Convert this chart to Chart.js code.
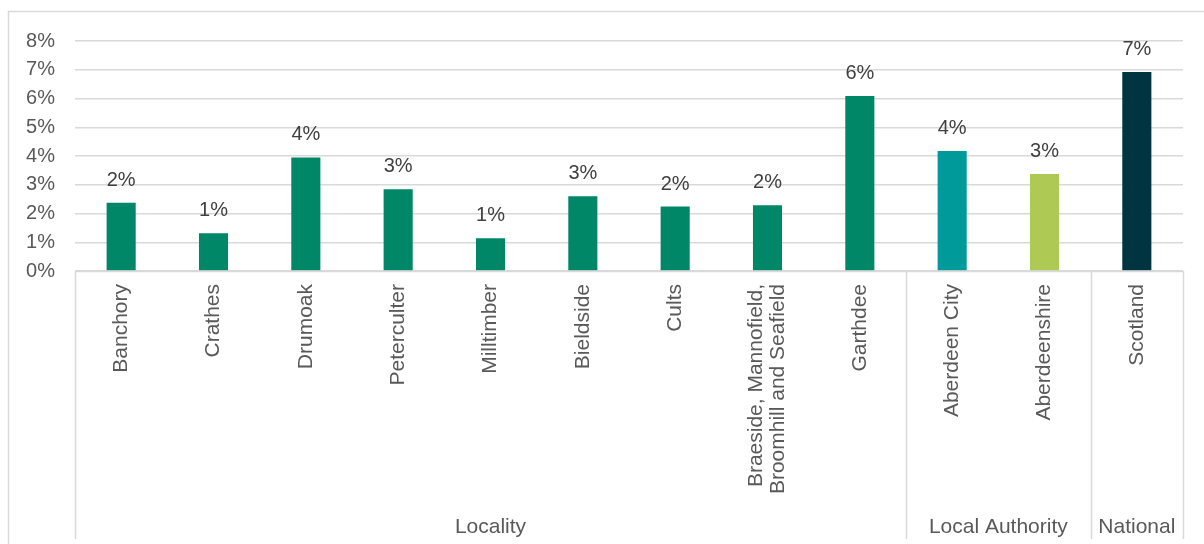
<!DOCTYPE html>
<html>
<head>
<meta charset="utf-8">
<script src="https://cdn.jsdelivr.net/npm/chart.js@4"></script>
<style>
  html, body { margin: 0; padding: 0; background: #ffffff; }
  #wrap { width: 1204px; height: 544px; position: relative; }
</style>
</head>
<body>
<div id="wrap"><canvas id="chart"></canvas></div>
<script>
// Categories (multi-line labels as arrays)
const categories = [
  'Banchory', 'Crathes', 'Drumoak', 'Peterculter', 'Milltimber', 'Bieldside',
  'Cults', ['Braeside, Mannofield,', 'Broomhill and Seafield'], 'Garthdee',
  'Aberdeen City', 'Aberdeenshire', 'Scotland'
];

// Share of population (%)
const values = [2.37, 1.31, 3.95, 2.84, 1.14, 2.6, 2.24, 2.29, 6.09, 4.17, 3.37, 6.92];

// Group spans over the category axis: [label, first index, last index]
const groupLabels = ['Locality', 'Local Authority', 'National'];
const groupStart = [0, 9, 11];
const groupEnd = [8, 10, 11];

// Bar colours per category
const barColors = [
  '#008767', '#008767', '#008767', '#008767', '#008767', '#008767',
  '#008767', '#008767', '#008767', '#009A9A', '#AFCA54', '#003440'
];

const yTicks = [0, 1, 2, 3, 4, 5, 6, 7, 8];

const FONT = 'Arial, "Liberation Sans", sans-serif';
const AXIS_TEXT = '#595959';
const LABEL_TEXT = '#404040';
const LINE = '#D9D9D9';

// Draws the frame, category labels, group labels and dividers, and value labels
const decorations = {
  id: 'decorations',
  afterDatasetsDraw(chart) {
    const ctx = chart.ctx;
    const x = chart.scales.x;
    const area = chart.chartArea;
    const half = (x.getPixelForValue(1) - x.getPixelForValue(0)) / 2;
    ctx.save();

    // outer frame
    ctx.strokeStyle = LINE;
    ctx.lineWidth = 1.5;
    ctx.beginPath();
    ctx.moveTo(8.5, 544);
    ctx.lineTo(8.5, 11.5);
    ctx.lineTo(1204, 11.5);
    ctx.stroke();

    // group dividers
    const bottom = 539;
    const edges = [x.getPixelForValue(groupStart[0]) - half];
    groupEnd.forEach(e => edges.push(x.getPixelForValue(e) + half));
    edges.forEach(px => {
      ctx.beginPath();
      ctx.moveTo(Math.round(px) + 0.5, area.bottom);
      ctx.lineTo(Math.round(px) + 0.5, bottom);
      ctx.stroke();
    });

    // x axis line
    ctx.beginPath();
    ctx.moveTo(area.left, area.bottom + 0.5);
    ctx.lineTo(area.right, area.bottom + 0.5);
    ctx.stroke();

    // rotated category labels
    ctx.fillStyle = AXIS_TEXT;
    ctx.font = '21px ' + FONT;
    const lh = 22;
    categories.forEach((lab, i) => {
      const lines = Array.isArray(lab) ? lab : [lab];
      const cx = x.getPixelForValue(i);
      lines.forEach((ln, j) => {
        const off = (j - (lines.length - 1) / 2) * lh;
        ctx.save();
        ctx.translate(cx + off, area.bottom + 13);
        ctx.rotate(-Math.PI / 2);
        ctx.textAlign = 'right';
        ctx.textBaseline = 'middle';
        ctx.fillText(ln, 0, 0);
        ctx.restore();
      });
    });

    // group labels
    ctx.textAlign = 'center';
    ctx.textBaseline = 'alphabetic';
    groupLabels.forEach((g, k) => {
      const l = x.getPixelForValue(groupStart[k]) - half;
      const r = x.getPixelForValue(groupEnd[k]) + half;
      ctx.fillText(g, (l + r) / 2, 533);
    });

    // value labels above bars
    const meta = chart.getDatasetMeta(0);
    ctx.fillStyle = LABEL_TEXT;
    ctx.font = '20px ' + FONT;
    meta.data.forEach((bar, i) => {
      ctx.fillText(Math.round(values[i]) + '%', bar.x, bar.y - 17);
    });

    ctx.restore();
  }
};

new Chart(document.getElementById('chart'), {
  type: 'bar',
  data: {
    labels: categories,
    datasets: [{
      data: values,
      backgroundColor: barColors,
      borderWidth: 0,
      categoryPercentage: 1,
      barPercentage: 0.315
    }]
  },
  options: {
    responsive: true,
    maintainAspectRatio: false,
    animation: false,
    devicePixelRatio: 1,
    layout: { padding: { top: 41, right: 21, bottom: 0, left: 0 } },
    plugins: { legend: { display: false }, tooltip: { enabled: false } },
    scales: {
      x: {
        grid: { display: false, drawTicks: false },
        border: { display: false },
        ticks: { display: false },
        afterFit(scale) { scale.height = 273; }
      },
      y: {
        min: 0,
        max: 8,
        afterBuildTicks(scale) { scale.ticks = yTicks.map(v => ({ value: v })); },
        afterFit(scale) { scale.width = 75; },
        grid: { color: LINE, lineWidth: 1.5, drawTicks: false },
        border: { display: false },
        ticks: {
          padding: 20,
          color: AXIS_TEXT,
          font: { family: FONT, size: 20 },
          callback: v => v + '%'
        }
      }
    }
  },
  plugins: [decorations]
});
</script>
</body>
</html>
